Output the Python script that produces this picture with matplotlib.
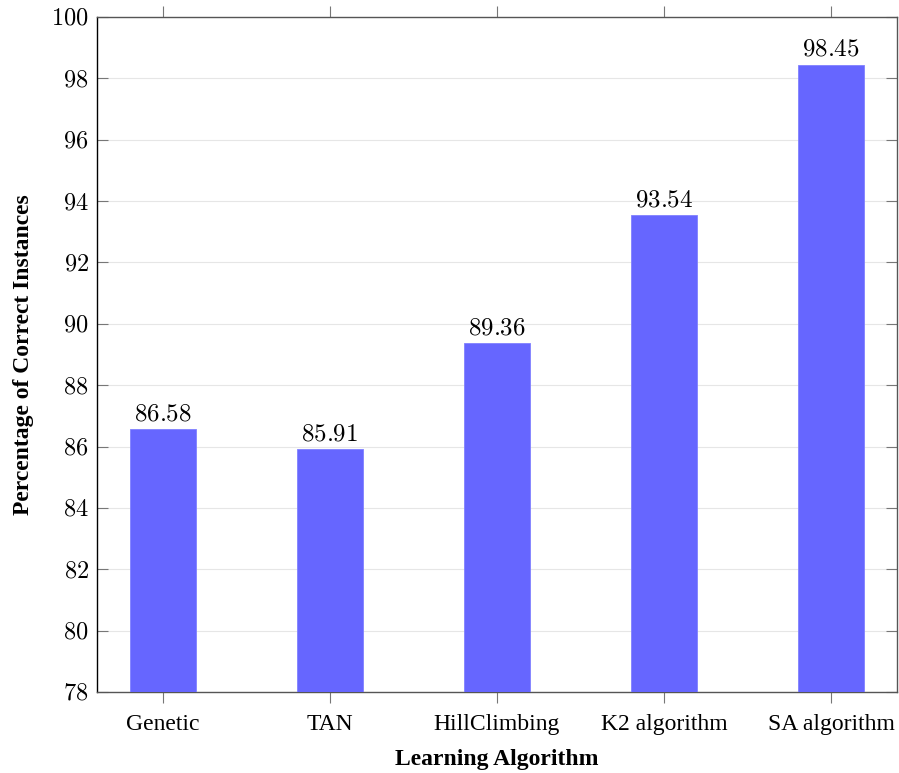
import matplotlib
matplotlib.use("Agg")
import matplotlib.pyplot as plt
from matplotlib.ticker import FuncFormatter

# data
algorithms = ["Genetic", "TAN", "HillClimbing", "K2 algorithm", "SA algorithm"]
correct_pct = [86.58, 85.91, 89.36, 93.54, 98.45]
y_ticks = [78, 80, 82, 84, 86, 88, 90, 92, 94, 96, 98, 100]

plt.rcParams["mathtext.fontset"] = "cm"
plt.rcParams["font.family"] = ["Liberation Serif", "DejaVu Serif"]

fig = plt.figure(figsize=(8.99, 7.73), dpi=100)
ax = fig.add_axes([97 / 899, 81 / 773, 800 / 899, 675 / 773])

x = list(range(len(algorithms)))
bars = ax.bar(x, correct_pct, width=0.4, color="#6666ff", edgecolor="#8080ff",
              linewidth=0.6, zorder=3)

for xi, v in zip(x, correct_pct):
    ax.text(xi, v + 0.12, f"${v:.2f}$", ha="center", va="bottom", fontsize=18)

ax.set_xlim(-0.395, 4.395)
ax.set_ylim(78, 100)
ax.set_yticks(y_ticks)
ax.yaxis.set_major_formatter(FuncFormatter(lambda v, p: f"${int(v)}$"))
ax.set_xticks(x)
ax.set_xticklabels(algorithms, fontsize=17)

ax.yaxis.grid(True, color="#e6e6e6", linewidth=0.8, zorder=0)
ax.set_axisbelow(True)

ax.tick_params(axis="y", direction="in", length=8, width=0.8, color="#777777",
               labelsize=17.5, left=True, right=True, pad=6)
ax.tick_params(axis="x", direction="out", length=8, width=0.8, color="#777777",
               bottom=True, top=True, pad=8)

for side in ["top", "bottom", "right"]:
    ax.spines[side].set_color("#555555")
    ax.spines[side].set_linewidth(1.0)
ax.spines["left"].set_color("black")
ax.spines["left"].set_linewidth(1.0)

ax.set_xlabel("Learning Algorithm", fontsize=17, fontweight="bold", labelpad=10)
ax.set_ylabel("Percentage of Correct Instances", fontsize=17, fontweight="bold",
              labelpad=12)

fig.savefig("out.png", dpi=100)
